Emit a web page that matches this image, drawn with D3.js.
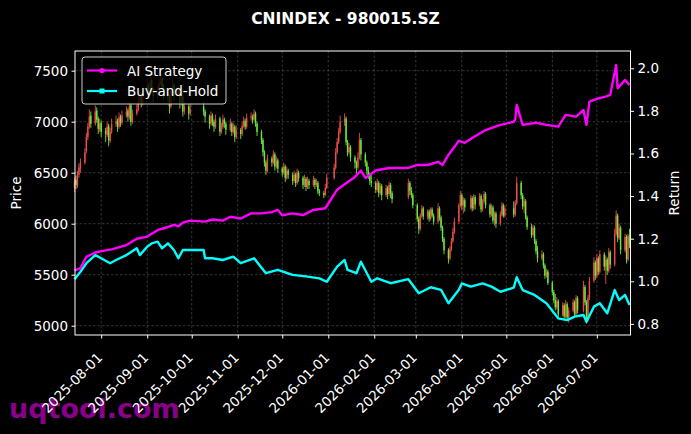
<!DOCTYPE html>
<html><head><meta charset="utf-8">
<script src="https://cdn.jsdelivr.net/npm/d3@7"></script>
<style>
html,body{margin:0;padding:0;background:#000;}
svg{display:block;font-family:"DejaVu Sans",sans-serif;}
</style></head><body>
<svg id="chart" width="691" height="434"></svg>
<script>
// ---------- DATA ----------
const titleText = "CNINDEX - 980015.SZ";
const startDate = "2025-07-14";
const endDate = "2026-07-23";
const holidays = ["2025-10-01","2025-10-02","2025-10-03","2025-10-06","2025-10-07","2025-10-08",
  "2026-01-01","2026-01-02","2026-02-16","2026-02-17","2026-02-18","2026-02-19","2026-02-20","2026-02-23",
  "2026-04-06","2026-05-01","2026-05-04","2026-05-05","2026-06-19"];

const candleOpen = [
6350,6430,6370,6480,6540, 6600,6710,6850,6950,7060, 6980,7110,7030,6920,6990, 6910,6870,6960,6810,6900,
6980,7010,6950,7050,6990, 7060,7110,7040,7160,7000, 7080,7120,7200,7260,7180, 7300,7360,7280,7410,7320,
7250,7300,7380,7430,7350, 7280,7250,7150,7300,7360, 7260,7300,7180,7250,7100, 7150,7080, 7150,7100,
7050,6980,7060,7000,6950, 7030,6900,6950,7020,6980, 6920,6980,6900,6950,6850, 6920,6880,6960,7010,6950,
7040,7050,7020,7080,6980, 6900,6820,6700,6600,6520, 6640,6600,6680,6560,6620, 6540,6500,6560,6450,6520,
6480,6420,6480,6400,6500, 6450,6380,6440,6360,6420, 6380,6430,6380,6400,6320, 6300,6280,6350,
6450,6550,6700,6800,6900, 7000,7030,6800,6700,6750, 6650,6600,6550,6650,6820, 6680,6600,6520,6480,6420,
6400,6330,6400,6300,6370, 6280,6350,6290,6380,6300, 6260,6400,6320,6280,
6180,6050,5950,6080,6150, 6070,6120,6050,6140,6080, 6020,6150,6060,5960,5850, 5740,5660,5750,5830,5920,
6020,6180,6280,6180,6230, 6160,6250,6150,6260, 6190,6270,6140,6220,6290, 6180,6090,6160,6030,6100,
6000,6090,6180,6080, 6150,6090,6200,
6400,6280,6170,6220,6060, 5970,5890,5960,5830,5730, 5660,5700,5590,5490,5530, 5420,5330,5250,5180,5240,
5110,5200,5090,5210,5080, 5150,5230,5110,5270, 5150,5380,5230,5060,5270, 5440,5620,5490,5660,5530,
5700,5580,5650,5540,5720, 5600,5900,6080,5860,5960, 5740,5870,5650,5880];
const candleHigh = [
6450,6470,6520,6590,6640, 6740,6890,6990,7120,7100, 7160,7140,7050,7030,7010, 6940,7000,6980,6940,7030,
7060,7030,7090,7070,7110, 7150,7130,7200,7180,7120, 7170,7250,7300,7280,7350, 7420,7380,7480,7430,7340,
7350,7430,7500,7450,7370, 7300,7270,7340,7420,7380, 7360,7320,7290,7270,7200, 7170,7180, 7200,7120,
7070,7100,7080,7020,7070, 7050,6990,7070,7040,7000, 7030,7000,6990,6970,6960, 6940,7000,7050,7030,7080,
7090,7070,7120,7100,7000, 6920,6840,6720,6620,6680, 6660,6720,6700,6660,6640, 6560,6600,6580,6560,6540,
6500,6520,6500,6540,6520, 6470,6480,6460,6460,6440, 6470,6450,6440,6420,6340, 6320,6390,6490,
6590,6740,6840,6940,7060, 7080,7050,6820,6790,6770, 6670,6620,6700,6890,6840, 6700,6620,6560,6500,6480,
6420,6440,6420,6400,6390, 6380,6370,6410,6400,6320, 6440,6420,6360,6300,
6200,6070,6100,6180,6170, 6140,6140,6160,6160,6100, 6200,6170,6080,5980,5870, 5760,5780,5860,5960,6060,
6200,6320,6300,6260,6250, 6280,6270,6290,6280, 6300,6290,6240,6320,6310, 6200,6190,6180,6120,6120,
6120,6210,6200,6180, 6220,6230,6460,
6420,6300,6260,6240,6080, 6000,5990,5980,5850,5780, 5740,5720,5610,5560,5550, 5440,5350,5310,5280,5260,
5230,5220,5250,5230,5180, 5260,5250,5300,5290, 5440,5400,5250,5300,5480, 5670,5640,5700,5680,5740,
5720,5690,5670,5760,5740, 5950,6130,6100,6000,5980, 5900,5890,5900,5950];
const candleLow = [
6310,6340,6350,6450,6500, 6580,6690,6820,6930,6940, 6960,6990,6880,6900,6850, 6800,6850,6760,6790,6880,
6950,6900,6930,6950,6970, 7040,7000,7020,6960,6980, 7060,7100,7180,7140,7160, 7280,7230,7260,7280,7180,
7230,7280,7360,7310,7220, 7200,7080,7130,7280,7200, 7240,7130,7160,7050,7070, 7020,7060, 7060,6990,
6930,6960,6960,6900,6930, 6860,6880,6930,6940,6870, 6900,6860,6880,6800,6830, 6830,6860,6940,6920,6930,
7010,6980,7000,6950,6860, 6780,6660,6560,6480,6500, 6560,6580,6520,6540,6500, 6460,6480,6410,6430,6440,
6380,6400,6360,6380,6410, 6340,6360,6320,6340,6340, 6360,6340,6360,6290,6270, 6250,6270,6340,
6430,6530,6680,6780,6880, 6960,6770,6660,6680,6610, 6540,6490,6530,6630,6620, 6560,6480,6440,6380,6360,
6300,6310,6260,6280,6230, 6260,6240,6270,6250,6200, 6240,6280,6250,6150,
6020,5900,5930,6060,6040, 6040,6020,6030,6060,5990, 6000,6030,5930,5820,5700, 5610,5640,5730,5810,5900,
6000,6160,6140,6100,6120, 6140,6120,6130,6140, 6170,6110,6120,6200,6150, 6060,6070,6000,5980,5960,
5980,6070,6060,6060, 6060,6070,6180,
6240,6140,6100,6040,5940, 5860,5870,5800,5700,5620, 5640,5560,5460,5470,5400, 5300,5220,5150,5160,5080,
5090,5060,5070,5050,5030, 5130,5080,5090,5120, 5130,5200,5020,5040,5250, 5420,5450,5470,5500,5510,
5540,5410,5500,5520,5560, 5580,5880,5820,5840,5700, 5720,5610,5630,5760];
const candleClose = [
6420,6380,6480,6550,6600, 6700,6850,6950,7050,6980, 7100,7020,6930,6980,6900, 6880,6950,6820,6900,6980,
7000,6950,7040,6990,7060, 7100,7050,7150,7000,7080, 7120,7200,7250,7180,7300, 7350,7280,7400,7320,7250,
7300,7380,7420,7350,7280, 7250,7150,7300,7350,7260, 7300,7180,7250,7100,7150, 7080,7120, 7100,7050,
6980,7060,7000,6950,7030, 6900,6950,7020,6980,6920, 6980,6900,6950,6850,6920, 6880,6960,7010,6950,7040,
7050,7020,7080,6980,6900, 6820,6700,6600,6520,6640, 6600,6680,6560,6620,6540, 6500,6560,6450,6520,6480,
6420,6480,6400,6500,6450, 6380,6440,6360,6420,6380, 6430,6380,6400,6320,6300, 6280,6350,6450,
6550,6700,6800,6900,7000, 7030,6800,6700,6750,6650, 6600,6550,6650,6820,6680, 6600,6520,6480,6420,6400,
6330,6400,6300,6370,6280, 6350,6290,6380,6300,6240, 6400,6320,6280,6180,
6050,5950,6080,6150,6070, 6120,6050,6140,6080,6020, 6150,6060,5960,5850,5740, 5660,5750,5830,5920,6020,
6180,6280,6180,6230,6160, 6250,6150,6260,6190, 6270,6140,6220,6290,6180, 6090,6160,6030,6100,6000,
6090,6180,6080,6150, 6090,6200,6400,
6280,6170,6220,6060,5970, 5890,5960,5830,5730,5660, 5700,5590,5490,5530,5420, 5330,5250,5180,5240,5110,
5200,5090,5210,5080,5150, 5230,5110,5270,5150, 5380,5230,5060,5270,5440, 5620,5490,5660,5530,5700,
5580,5650,5540,5720,5600, 5900,6080,5860,5960,5740, 5870,5650,5880,5800];

const strategyDates = ["2025-07-14","2025-07-18","2025-07-22","2025-07-28","2025-08-04","2025-08-08","2025-08-14",
"2025-08-18","2025-08-25","2025-09-01","2025-09-08","2025-09-15","2025-09-19","2025-09-22","2025-09-25","2025-09-30",
"2025-10-10","2025-10-15","2025-10-22","2025-10-27","2025-11-03","2025-11-10","2025-11-17","2025-11-24","2025-11-28",
"2025-12-01","2025-12-08","2025-12-15","2025-12-22","2025-12-30","2026-01-07","2026-01-13","2026-01-19","2026-01-23",
"2026-01-26","2026-02-02","2026-02-11","2026-02-24","2026-03-02","2026-03-09","2026-03-16","2026-03-19","2026-03-23",
"2026-03-30","2026-04-03","2026-04-08","2026-04-17","2026-04-27","2026-05-06","2026-05-07","2026-05-08","2026-05-12",
"2026-05-21","2026-05-28","2026-06-05","2026-06-10","2026-06-17","2026-06-22","2026-06-24","2026-06-26","2026-07-02",
"2026-07-07","2026-07-10","2026-07-14","2026-07-15","2026-07-20","2026-07-23"];
const strategyValues = [1.05,1.062,1.115,1.135,1.145,1.15,1.162,
1.17,1.20,1.21,1.24,1.255,1.265,1.258,1.275,1.285,
1.28,1.29,1.285,1.303,1.295,1.319,1.319,1.325,1.335,
1.31,1.319,1.311,1.335,1.343,1.43,1.46,1.49,1.52,
1.485,1.52,1.532,1.532,1.546,1.546,1.561,1.546,1.593,
1.66,1.65,1.673,1.71,1.734,1.749,1.76,1.828,1.734,
1.744,1.734,1.726,1.781,1.773,1.804,1.734,1.843,1.859,
1.867,1.875,2.015,1.906,1.945,1.922];

const holdDates = ["2025-07-14","2025-07-18","2025-07-22","2025-07-28","2025-08-01","2025-08-07","2025-08-11",
"2025-08-18","2025-08-25","2025-08-27","2025-09-01","2025-09-04","2025-09-08","2025-09-11","2025-09-15","2025-09-19",
"2025-09-22","2025-09-25","2025-09-30","2025-10-09","2025-10-10","2025-10-15","2025-10-22","2025-10-29","2025-11-03",
"2025-11-12","2025-11-20","2025-11-28","2025-12-08","2025-12-17","2025-12-26","2025-12-31","2026-01-07","2026-01-12",
"2026-01-14","2026-01-20","2026-01-23","2026-01-30","2026-02-03","2026-02-12","2026-02-24","2026-03-03","2026-03-11",
"2026-03-18","2026-03-23","2026-03-30","2026-04-01","2026-04-07","2026-04-15","2026-04-21","2026-04-27","2026-05-06",
"2026-05-08","2026-05-12","2026-05-20","2026-05-28","2026-06-05","2026-06-11","2026-06-16","2026-06-22","2026-06-24",
"2026-06-29","2026-07-03","2026-07-08","2026-07-13","2026-07-16","2026-07-20","2026-07-23"];
const holdValues = [1.01,1.045,1.085,1.123,1.108,1.085,1.10,
1.123,1.155,1.123,1.162,1.178,1.186,1.155,1.178,1.147,
1.108,1.147,1.147,1.147,1.108,1.108,1.10,1.116,1.085,
1.108,1.038,1.054,1.030,1.023,1.014,0.998,1.069,1.10,
1.054,1.038,1.092,0.998,1.014,0.991,1.01,0.944,0.972,
0.96,0.897,0.96,0.99,0.975,0.99,0.975,0.951,0.97,
1.019,0.959,0.936,0.897,0.826,0.818,0.834,0.842,0.810,
0.881,0.897,0.850,0.959,0.912,0.936,0.889];

const priceTicks = [5000,5500,6000,6500,7000,7500];
const returnTicks = [0.8,1.0,1.2,1.4,1.6,1.8,2.0];
const monthTicks = ["2025-08-01","2025-09-01","2025-10-01","2025-11-01","2025-12-01","2026-01-01",
"2026-02-01","2026-03-01","2026-04-01","2026-05-01","2026-06-01","2026-07-01"];
const seriesNames = ["AI Strategy","Buy-and-Hold"];

// ---------- LAYOUT ----------
const svg = d3.select("#chart");
const L = 75, R = 630.5, T = 51, B = 335;
const parse = d3.utcParse("%Y-%m-%d");
const fmt = d3.utcFormat("%Y-%m-%d");
const FONT = 13.5;

const x = d3.scaleUtc().domain([parse(startDate), parse(endDate)]).range([74.5, 629.5]);
const yP = d3.scaleLinear().domain([4909, 7693]).range([B, T]);
const yR = d3.scaleLinear().domain([0.748, 2.081]).range([B, T]);

const hol = new Set(holidays);
const tradeDates = d3.utcDay.range(parse(startDate), d3.utcDay.offset(parse(endDate), 1))
  .filter(d => d.getUTCDay() !== 0 && d.getUTCDay() !== 6 && !hol.has(fmt(d)));
const n = Math.min(tradeDates.length, candleClose.length);
const candles = d3.range(n).map(i => ({d: tradeDates[i], o: candleOpen[i], h: candleHigh[i], l: candleLow[i], c: candleClose[i]}));

svg.append("rect").attr("width", 691).attr("height", 434).attr("fill", "#000");

// title
svg.append("text").attr("x", 345.5).attr("y", 24).attr("text-anchor", "middle")
  .attr("fill", "#fff").attr("font-weight", "bold").attr("font-size", 15.5).text(titleText);

// watermark
svg.append("text").attr("x", 9).attr("y", 418).attr("fill", "#8b008b")
  .attr("font-weight", "bold").attr("font-size", 27).text("uqtool.com");

// grid
const grid = svg.append("g").attr("stroke", "#4a4a4a").attr("stroke-width", 0.7).attr("stroke-dasharray", "2.5,2");
monthTicks.forEach(m => grid.append("line").attr("x1", x(parse(m))).attr("x2", x(parse(m))).attr("y1", T).attr("y2", B));
priceTicks.forEach(p => grid.append("line").attr("x1", L).attr("x2", R).attr("y1", yP(p)).attr("y2", yP(p)));

// candles
const up = "#f04c4c", down = "#6aec3c";
const cg = svg.append("g");
cg.selectAll("line").data(candles).join("line")
  .attr("x1", d => x(d.d)).attr("x2", d => x(d.d))
  .attr("y1", d => yP(d.h)).attr("y2", d => yP(d.l))
  .attr("stroke", d => d.c >= d.o ? up : down).attr("stroke-width", 0.9);
cg.selectAll("rect").data(candles).join("rect")
  .attr("x", d => x(d.d) - 0.7).attr("width", 1.4)
  .attr("y", d => yP(Math.max(d.o, d.c))).attr("height", d => Math.max(0.8, Math.abs(yP(d.o) - yP(d.c))))
  .attr("fill", d => d.c >= d.o ? up : down);

// lines
const line = d3.line().x(d => x(d.d)).y(d => yR(d.v)).curve(d3.curveLinear);
const stratData = strategyDates.map((s, i) => ({d: parse(s), v: strategyValues[i]}));
const holdData = holdDates.map((s, i) => ({d: parse(s), v: holdValues[i]}));
svg.append("path").datum(holdData).attr("d", line).attr("fill", "none")
  .attr("stroke", "#00ffff").attr("stroke-width", 2.4).attr("stroke-linejoin", "round");
svg.append("path").datum(stratData).attr("d", line).attr("fill", "none")
  .attr("stroke", "#ff00ff").attr("stroke-width", 2.4).attr("stroke-linejoin", "round");

// frame
svg.append("rect").attr("x", L).attr("y", T).attr("width", R - L).attr("height", B - T)
  .attr("fill", "none").attr("stroke", "#fff").attr("stroke-width", 1);

// axes
function styleAxis(g) {
  g.select(".domain").remove();
  g.selectAll(".tick line").attr("stroke", "#fff");
  g.selectAll(".tick text").attr("fill", "#fff").attr("font-size", FONT).attr("font-family", "DejaVu Sans");
}
svg.append("g").attr("transform", `translate(${L},0)`)
  .call(d3.axisLeft(yP).tickValues(priceTicks).tickSize(3.5).tickPadding(3.5).tickFormat(d3.format("d")))
  .call(styleAxis);
svg.append("g").attr("transform", `translate(${R},0)`)
  .call(d3.axisRight(yR).tickValues(returnTicks).tickSize(3.5).tickPadding(3.5).tickFormat(d3.format(".1f")))
  .call(styleAxis);
const xg = svg.append("g").attr("transform", `translate(0,${B})`)
  .call(d3.axisBottom(x).tickValues(monthTicks.map(parse)).tickSize(3.5).tickFormat(fmt))
  .call(styleAxis);
xg.selectAll(".tick text")
  .attr("text-anchor", "end").attr("dy", null).attr("y", null)
  .attr("transform", "translate(-2,20) rotate(-45)")
  .attr("dominant-baseline", "central");

// axis labels
svg.append("text").attr("transform", `translate(21,${(T + B) / 2}) rotate(-90)`).attr("text-anchor", "middle")
  .attr("fill", "#fff").attr("font-size", FONT).text("Price");
svg.append("text").attr("transform", `translate(679,${(T + B) / 2}) rotate(-90)`).attr("text-anchor", "middle")
  .attr("fill", "#fff").attr("font-size", FONT).text("Return");

// legend
const lg = svg.append("g");
lg.append("rect").attr("x", 82).attr("y", 57).attr("width", 144).attr("height", 47).attr("rx", 3)
  .attr("fill", "#000").attr("fill-opacity", 0.8).attr("stroke", "#cccccc").attr("stroke-width", 1);
const legendColors = ["#ff00ff", "#00ffff"];
seriesNames.forEach((name, i) => {
  const yy = 70.5 + i * 20.5;
  lg.append("line").attr("x1", 87).attr("x2", 117).attr("y1", yy).attr("y2", yy)
    .attr("stroke", legendColors[i]).attr("stroke-width", 2.2);
  if (i === 0) lg.append("circle").attr("cx", 102).attr("cy", yy).attr("r", 2.6).attr("fill", legendColors[i]);
  else lg.append("rect").attr("x", 99.5).attr("y", yy - 2.5).attr("width", 5).attr("height", 5).attr("fill", legendColors[i]);
  lg.append("text").attr("x", 127).attr("y", yy).attr("dominant-baseline", "central")
    .attr("fill", "#fff").attr("font-size", FONT).text(name);
});
</script>
</body></html>
